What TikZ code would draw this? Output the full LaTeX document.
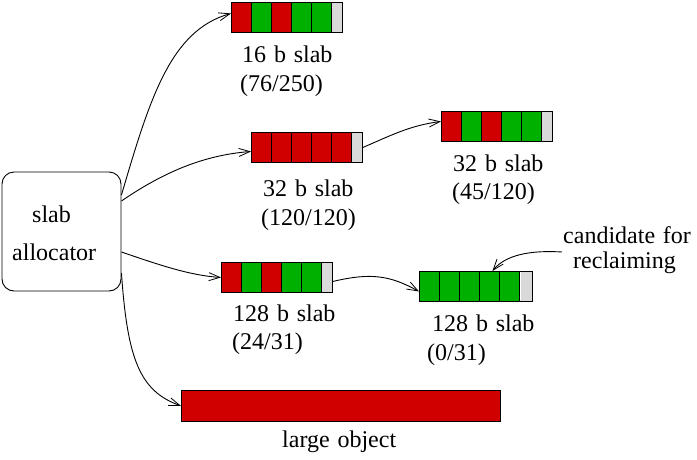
\documentclass[tikz,border=0pt]{standalone}
\usepackage{fontspec}
\setmainfont{Liberation Serif}[WordSpace=1.3]
\usetikzlibrary{arrows.meta}
\definecolor{sred}{RGB}{208,0,0}
\definecolor{sgreen}{RGB}{0,176,0}
\definecolor{sgrey}{RGB}{217,217,217}
\tikzset{
  frame/.style={draw=black, line width=0.9pt},
  slabnode/.style={frame, rectangle, inner sep=0pt, minimum height=30pt, anchor=north west},
  lbl/.style={anchor=base west, inner sep=0pt, font=\fontsize{24}{29}\selectfont},
  conn/.style={line width=0.9pt, -{Straight Barb[length=11pt,width=8pt,line width=0.8pt]}},
}
% name, x, y, colours, total width
\newcommand\myslab[5]{%
  \foreach \c [count=\i from 0] in {#4} {
    \fill[\c] (#2+\i*20,#3) rectangle (#2+\i*20+20,#3+30);
  }
  \fill[sgrey] (#2+100,#3) rectangle (#2+#5,#3+30);
  \foreach \i in {1,...,5} {
    \draw[line width=0.9pt] (#2+\i*20,#3) -- (#2+\i*20,#3+30);
  }
  \node[slabnode, minimum width=#5 pt] (#1) at (#2,#3) {};
}
\begin{document}
\begin{tikzpicture}[x=1pt,y=-1pt]
\useasboundingbox (0,0) rectangle (697,459);
% allocator box
\node[frame, rounded corners=12pt, minimum width=119pt, minimum height=119pt, inner sep=0pt] (box) at (61.5,231.5) {};
\node[lbl] (t1) at (32,222) {slab};
\node[lbl] (t2) at (12,260) {allocator};
% slabs
\myslab{s1}{231}{2}{sred,sgreen,sred,sgreen,sgreen}{111}
\myslab{s2}{251}{132}{sred,sred,sred,sred,sred}{111}
\myslab{s3}{441}{111}{sred,sgreen,sred,sgreen,sgreen}{111}
\myslab{s4}{221}{262}{sred,sgreen,sred,sgreen,sgreen}{111}
\myslab{s5}{419}{271}{sgreen,sgreen,sgreen,sgreen,sgreen}{113}
\draw[white, line width=0.8pt] (520.5,272) -- (520.5,300);
\node[frame, fill=sred, rectangle, inner sep=0pt, minimum width=319pt, minimum height=31pt, anchor=north west] (L) at (181,390) {};
% labels
\node[lbl] (l1a) at (242,62) {16 b slab};
\node[lbl] (l1b) at (240,91) {(76/250)};
\node[lbl] (l2a) at (263,196) {32 b slab};
\node[lbl] (l2b) at (261,225) {(120/120)};
\node[lbl] (l3a) at (453,171) {32 b slab};
\node[lbl] (l3b) at (452,199) {(45/120)};
\node[lbl] (l4a) at (233,321) {128 b slab};
\node[lbl] (l4b) at (232,349) {(24/31)};
\node[lbl] (l5a) at (432,331) {128 b slab};
\node[lbl] (l5b) at (427,360) {(0/31)};
\node[lbl] (lL) at (282,447) {large object};
\node[lbl] (c1) at (563,243) {candidate for};
\node[lbl] (c2) at (573,268) {reclaiming};
\coordinate (c0) at (562,252);
% connectors
\draw[conn] ([yshift=36.5pt]box.east) .. controls +(28,-95) and +(-61,17) .. ([yshift=4pt]s1.west);
\draw[conn] ([yshift=30.5pt]box.east) .. controls +(38,-26) and +(-51,4) .. ([yshift=-4pt]s2.west);
\draw[conn] (s2.east) .. controls +(28,-12) and +(-31,4) .. ([yshift=5pt]s3.west);
\draw[conn] ([yshift=-20.5pt]box.east) .. controls +(38,13) and +(-31,-2) .. (s4.west);
\draw[conn] ([yshift=-4pt]s4.east) .. controls +(38,-9) and +(-29,-16) .. ([yshift=-5pt]s5.west);
\draw[conn] ([yshift=-41.5pt]box.east) .. controls +(6,87) and +(-41,-15) .. (L.west);
\draw[conn] (c0) .. controls +(-32,-2) and +(13,-16) .. ([xshift=16.5pt]s5.north);
\end{tikzpicture}
\end{document}
